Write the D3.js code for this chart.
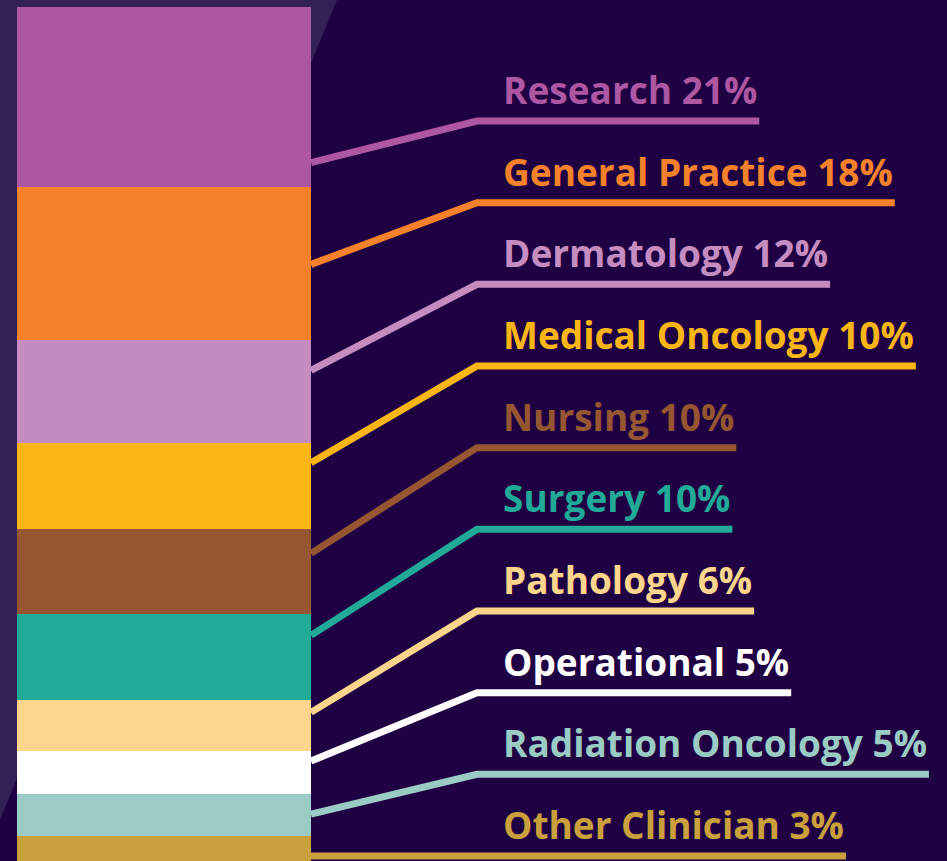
<!DOCTYPE html>
<html>
<head>
<meta charset="utf-8">
<script src="https://cdn.jsdelivr.net/npm/d3@7"></script>
<style>
  body { margin: 0; background: #1f0042; }
  svg { display: block; }
</style>
</head>
<body>
<div id="chart"></div>
<script>
// Data
const categories = ["Research", "General Practice", "Dermatology", "Medical Oncology", "Nursing",
  "Surgery", "Pathology", "Operational", "Radiation Oncology", "Other Clinician"]
const shares = [21, 18, 12, 10, 10, 10, 6, 5, 5, 3]
const colors = ["#ad56a1", "#f5822a", "#c58cc0", "#fbb615", "#955631",
  "#21aa98", "#fed58c", "#ffffff", "#9acbc4", "#c9a03c"]
// where each leader line meets the bar, in % of the stack
const leaderAt = [18.2, 30.1, 42.5, 53.3, 63.9, 73.5, 82.5, 88.2, 94.4, 99.3]

const width = 947, height = 861

const svg = d3.select("#chart").append("svg")
  .attr("width", width)
  .attr("height", height)

svg.append("rect")
  .attr("width", width).attr("height", height)
  .attr("fill", "#1f0042")

// light diagonal band behind the bar
svg.append("path")
  .attr("d", "M0,0L337,0L0,820Z")
  .attr("fill", "#332057")

let cum = 0
const rows = categories.map((c, i) => {
  const r = { name: c, value: shares[i], color: colors[i], start: cum, anchor: leaderAt[i] }
  cum += shares[i]
  return r
})

const y = d3.scaleLinear().domain([0, 100]).range([7, 862])
const labelY = d3.scalePoint().domain(categories).range([121, 856])

const barX = 17, barW = 294, elbowX = 477, textX = 503

svg.append("g")
  .attr("shape-rendering", "crispEdges")
  .selectAll("rect")
  .data(rows)
  .join("rect")
  .attr("x", barX)
  .attr("y", d => Math.round(y(d.start)))
  .attr("width", barW)
  .attr("height", d => Math.round(y(d.start + d.value)) - Math.round(y(d.start)))
  .attr("fill", d => d.color)

const labels = svg.append("g")
  .selectAll("text")
  .data(rows)
  .join("text")
  .attr("x", textX)
  .attr("y", d => labelY(d.name) - 17)
  .attr("fill", d => d.color)
  .style("font-family", "'Open Sans', sans-serif")
  .style("font-weight", 700)
  .style("font-size", "37px")
  .text(d => `${d.name} ${d.value}%`)

labels.each(function (d) { d.textEnd = textX + this.getComputedTextLength() + 2 })

svg.append("g")
  .selectAll("path")
  .data(rows)
  .join("path")
  .attr("fill", "none")
  .attr("stroke", d => d.color)
  .attr("stroke-width", 7)
  .attr("d", d => d3.line()([
    [barX + barW, y(d.anchor)],
    [elbowX, labelY(d.name)],
    [d.textEnd, labelY(d.name)]
  ]))
</script>
</body>
</html>
